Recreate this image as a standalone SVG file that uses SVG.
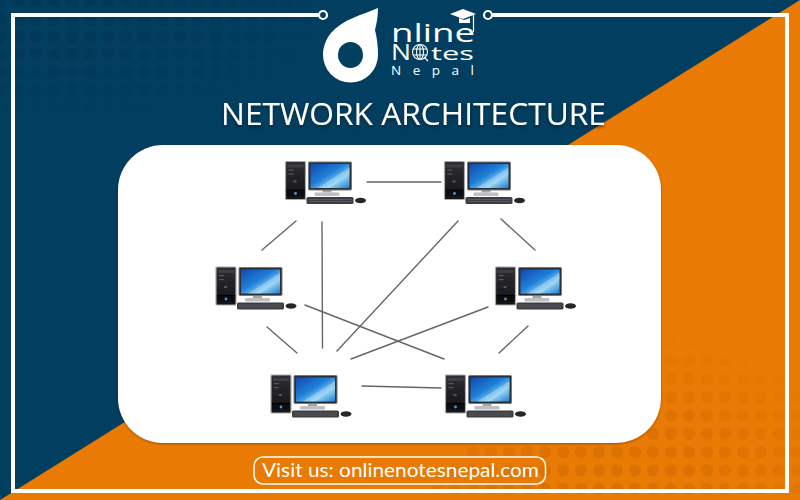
<svg xmlns="http://www.w3.org/2000/svg" width="800" height="500" viewBox="0 0 800 500">
<style>
.lk{stroke:#666;stroke-width:1.4;fill:none;stroke-linecap:round}
.lg{fill:#fff;font-family:"Open Sans","DejaVu Sans",sans-serif}
</style>
<defs>
<pattern id="dn" patternUnits="userSpaceOnUse" width="18" height="17.6" x="0" y="2"><circle cx="0" cy="0" r="6" fill="#022f4d"/><circle cx="18" cy="0" r="6" fill="#022f4d"/><circle cx="0" cy="17.6" r="6" fill="#022f4d"/><circle cx="18" cy="17.6" r="6" fill="#022f4d"/></pattern>
<pattern id="do" patternUnits="userSpaceOnUse" width="18" height="18.3" x="5" y="13"><circle cx="0" cy="0" r="6" fill="#cf6a03"/><circle cx="18" cy="0" r="6" fill="#cf6a03"/><circle cx="0" cy="18.3" r="6" fill="#cf6a03"/><circle cx="18" cy="18.3" r="6" fill="#cf6a03"/></pattern>
<radialGradient id="gn" gradientUnits="userSpaceOnUse" cx="60" cy="20" r="1" gradientTransform="translate(60 20) scale(260 95) translate(-60 -20)"><stop offset="0" stop-color="#fff" stop-opacity=".36"/><stop offset=".6" stop-color="#fff" stop-opacity=".22"/><stop offset="1" stop-color="#fff" stop-opacity="0"/></radialGradient>
<radialGradient id="go" gradientUnits="userSpaceOnUse" cx="620" cy="500" r="1" gradientTransform="translate(620 500) scale(240 170) translate(-620 -500)"><stop offset="0" stop-color="#fff" stop-opacity=".62"/><stop offset=".55" stop-color="#fff" stop-opacity=".42"/><stop offset="1" stop-color="#fff" stop-opacity="0"/></radialGradient>
<mask id="mn" maskUnits="userSpaceOnUse" x="0" y="0" width="800" height="500"><rect width="800" height="500" fill="url(#gn)"/></mask>
<mask id="mo" maskUnits="userSpaceOnUse" x="0" y="0" width="800" height="500"><rect width="800" height="500" fill="url(#go)"/></mask>
<linearGradient id="scr" x1="0" y1="0" x2="1" y2="1"><stop offset="0" stop-color="#0f49ad"/><stop offset=".45" stop-color="#2080d8"/><stop offset=".72" stop-color="#8ed0f2"/><stop offset="1" stop-color="#1f7ad0"/></linearGradient>
<linearGradient id="tw" x1="0" y1="0" x2="0" y2="1"><stop offset="0" stop-color="#2e3034"/><stop offset=".72" stop-color="#1a1b1e"/><stop offset=".74" stop-color="#050506"/><stop offset="1" stop-color="#17181b"/></linearGradient>
<filter id="sf" x="-5%" y="-5%" width="110%" height="110%"><feGaussianBlur stdDeviation=".55"/></filter>
<filter id="ts" x="-5%" y="-30%" width="110%" height="170%"><feDropShadow dx="0" dy="2" stdDeviation="1.5" flood-color="#01202f" flood-opacity=".7"/></filter>
<filter id="bs" x="-3%" y="-3%" width="106%" height="106%"><feDropShadow dx="0" dy="1" stdDeviation="1.2" flood-color="#000" flood-opacity=".35"/></filter>
<g id="pc" filter="url(#sf)">
<rect x="0" y="0" width="20" height="38" rx="1" fill="url(#tw)" stroke="#a8a9ad" stroke-width="1.200"/>
<rect x="2" y="3" width="16" height="3" fill="#3c3e44"/>
<rect x="3" y="8" width="5" height="1.200" fill="#55575d"/>
<rect x="3" y="12" width="5" height="1.200" fill="#55575d"/>
<rect x="8" y="19" width="3" height="2" fill="#55575d"/>
<circle cx="10" cy="32" r="1.400" fill="#4a96e0"/>
<path d="M37 28h9v3h-9z" fill="#a4a7aa"/>
<rect x="29" y="31" width="25" height="3.500" rx="1" fill="#bdbfc1"/>
<rect x="23" y="0.500" width="43" height="28" rx="1" fill="#2c2f34" stroke="#77797d" stroke-width="1"/>
<rect x="25" y="2.500" width="39" height="24" fill="url(#scr)"/>
<path d="M32 26.500L64 6V12L44 26.500Z" fill="#cfeeff" opacity=".35"/>
<rect x="21" y="35.500" width="47" height="7" rx="1.500" fill="#3b3d42"/>
<path d="M23 38H66M23 40H66" stroke="#6d6f73" stroke-width=".6"/>
<ellipse cx="75" cy="39" rx="5.500" ry="2.800" fill="#26282c"/>
</g>
</defs>
<rect width="800" height="500" fill="#023e5f"/>
<path d="M0 0H800L0 500Z" fill="url(#dn)" mask="url(#mn)"/>
<path d="M800 0L800 500L0 500Z" fill="#e97a03"/>
<path d="M800 150L800 500L410 500Z" fill="url(#do)" mask="url(#mo)"/>
<g id="frame">
<path d="M318 15H13V491H787V15H493" fill="none" stroke="#fff" stroke-width="4"/>
<circle cx="323" cy="15" r="4" fill="#023e5f" stroke="#fff" stroke-width="2.200"/>
<circle cx="488" cy="15" r="4" fill="#023e5f" stroke="#fff" stroke-width="2.200"/>
</g>
<g id="logo">
<path fill-rule="evenodd" fill="#fff" d="M323 55A27.500 27.500 0 0 0 378 55C378 46 377 38 375 30C377 22 378 15 378 8C362 15 343 19 331 33C326 39 323 47 323 55ZM338 55A12.500 13 0 0 0 363 55A12.500 13 0 0 0 338 55Z"/>
<text class="lg" x="391" y="42" font-size="25" textLength="84" lengthAdjust="spacingAndGlyphs">nline</text>
<text class="lg" x="391" y="60" font-size="21" textLength="20" lengthAdjust="spacingAndGlyphs">N</text>
<g fill="none" stroke="#fff" stroke-width="1.100">
<circle cx="420" cy="52" r="7.500"/><ellipse cx="420" cy="52" rx="3.500" ry="7.500"/><path d="M413 49H427M413 55H427M420 44.500V59.500M424 57L428 61"/>
</g>
<text class="lg" x="431" y="60" font-size="18" textLength="43" lengthAdjust="spacingAndGlyphs">tes</text>
<text class="lg" x="391" y="75" font-size="13.500" textLength="83" lengthAdjust="spacing">Nepal</text>
<path fill="#fff" d="M450 14L463 9L476 14L463 19Z"/>
<path fill="#fff" d="M459 18L464 20L470 18V23H459Z"/>
<path d="M473.500 15V32" stroke="#fff" stroke-width="1.200"/>
</g>
<text id="title" x="221" y="125" font-family="'Open Sans','Noto Sans',sans-serif" font-size="31" fill="#fff" textLength="385" lengthAdjust="spacingAndGlyphs" filter="url(#ts)">NETWORK ARCHITECTURE</text>
<rect id="panel" x="118" y="145" width="543" height="298" rx="45" fill="#fff" filter="url(#bs)"/>
<g id="connectors">
<path class="lk" d="M367 182H441"/>
<path class="lk" d="M296 221L262 250"/>
<path class="lk" d="M322 222L322.500 348"/>
<path class="lk" d="M458 221L337 351"/>
<path class="lk" d="M501 219L535 250"/>
<path class="lk" d="M305 305L444 359"/>
<path class="lk" d="M267 327L297 353"/>
<path class="lk" d="M488 307L351 359"/>
<path class="lk" d="M528 326L499 353"/>
<path class="lk" d="M362 386L441 388"/>
</g>
<g id="pc1"><use href="#pc" x="285.500" y="161.500"/></g>
<g id="pc2"><use href="#pc" x="444.500" y="161.500"/></g>
<g id="pc3"><use href="#pc" x="216" y="267"/></g>
<g id="pc4"><use href="#pc" x="495.500" y="267"/></g>
<g id="pc5"><use href="#pc" x="271" y="375"/></g>
<g id="pc6"><use href="#pc" x="445.500" y="375"/></g>
<g id="visit">
<rect x="254" y="457" width="291.500" height="27" rx="9" fill="none" stroke="#fff" stroke-width="1.500"/>
<text x="262" y="476.500" font-family="Lato,'Open Sans',sans-serif" font-size="20" fill="#fff" textLength="277" lengthAdjust="spacingAndGlyphs">Visit us: onlinenotesnepal.com</text>
</g>
</svg>
